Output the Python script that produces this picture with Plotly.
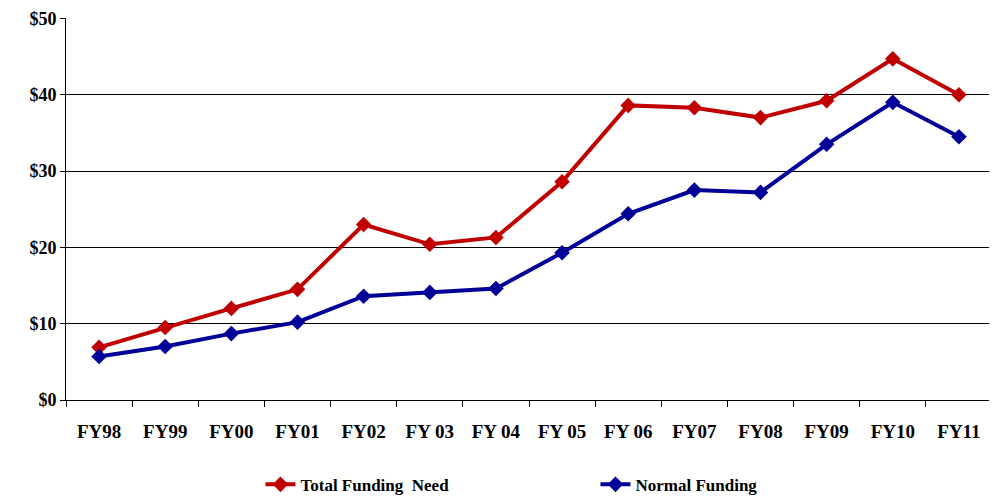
import plotly.graph_objects as go

years = ["FY98", "FY99", "FY00", "FY01", "FY02", "FY 03", "FY 04", "FY 05",
         "FY 06", "FY07", "FY08", "FY09", "FY10", "FY11"]
total_need = [6.9, 9.5, 12.0, 14.5, 23.0, 20.4, 21.3, 28.6, 38.6, 38.3, 37.0, 39.2, 44.7, 40.0]
normal = [5.7, 7.0, 8.7, 10.2, 13.6, 14.1, 14.6, 19.3, 24.4, 27.5, 27.2, 33.5, 39.0, 34.5]

fig = go.Figure()
fig.add_trace(go.Scatter(x=years, y=total_need, name="Total Funding  Need",
                         mode="lines+markers",
                         line=dict(color="#C00000", width=4),
                         marker=dict(symbol="diamond", size=12, color="#C00000")))
fig.add_trace(go.Scatter(x=years, y=normal, name="Normal Funding",
                         mode="lines+markers",
                         line=dict(color="#000099", width=4),
                         marker=dict(symbol="diamond", size=12, color="#000099")))

fig.update_layout(
    width=989, height=489,
    paper_bgcolor="white", plot_bgcolor="white",
    margin=dict(l=58, r=5, t=10, b=97, autoexpand=False),
    font=dict(family="Liberation Serif", size=17, color="black", weight="bold"),
    legend=dict(orientation="h", x=0.21, xanchor="left", y=-0.222, yanchor="middle",
                font=dict(size=17, weight="bold"), entrywidthmode="pixels", entrywidth=290),
    showlegend=True,
)
fig.update_xaxes(showline=True, linecolor="black", linewidth=1, automargin=False,
                 ticks="outside", tickson="boundaries", ticklen=6, tickcolor="black",
                 showgrid=False, tickfont=dict(size=19, weight="bold"),
                 ticklabelstandoff=14, range=[-0.5, 13.5])
fig.update_yaxes(range=[0, 50.05], dtick=10, tickprefix="$", showline=True, automargin=False,
                 linecolor="black", linewidth=1, showgrid=True, gridcolor="black",
                 gridwidth=1, ticks="outside", ticklen=5, tickcolor="black",
                 tickfont=dict(size=18, weight="bold"), zeroline=False)
fig.write_html("out.html")
